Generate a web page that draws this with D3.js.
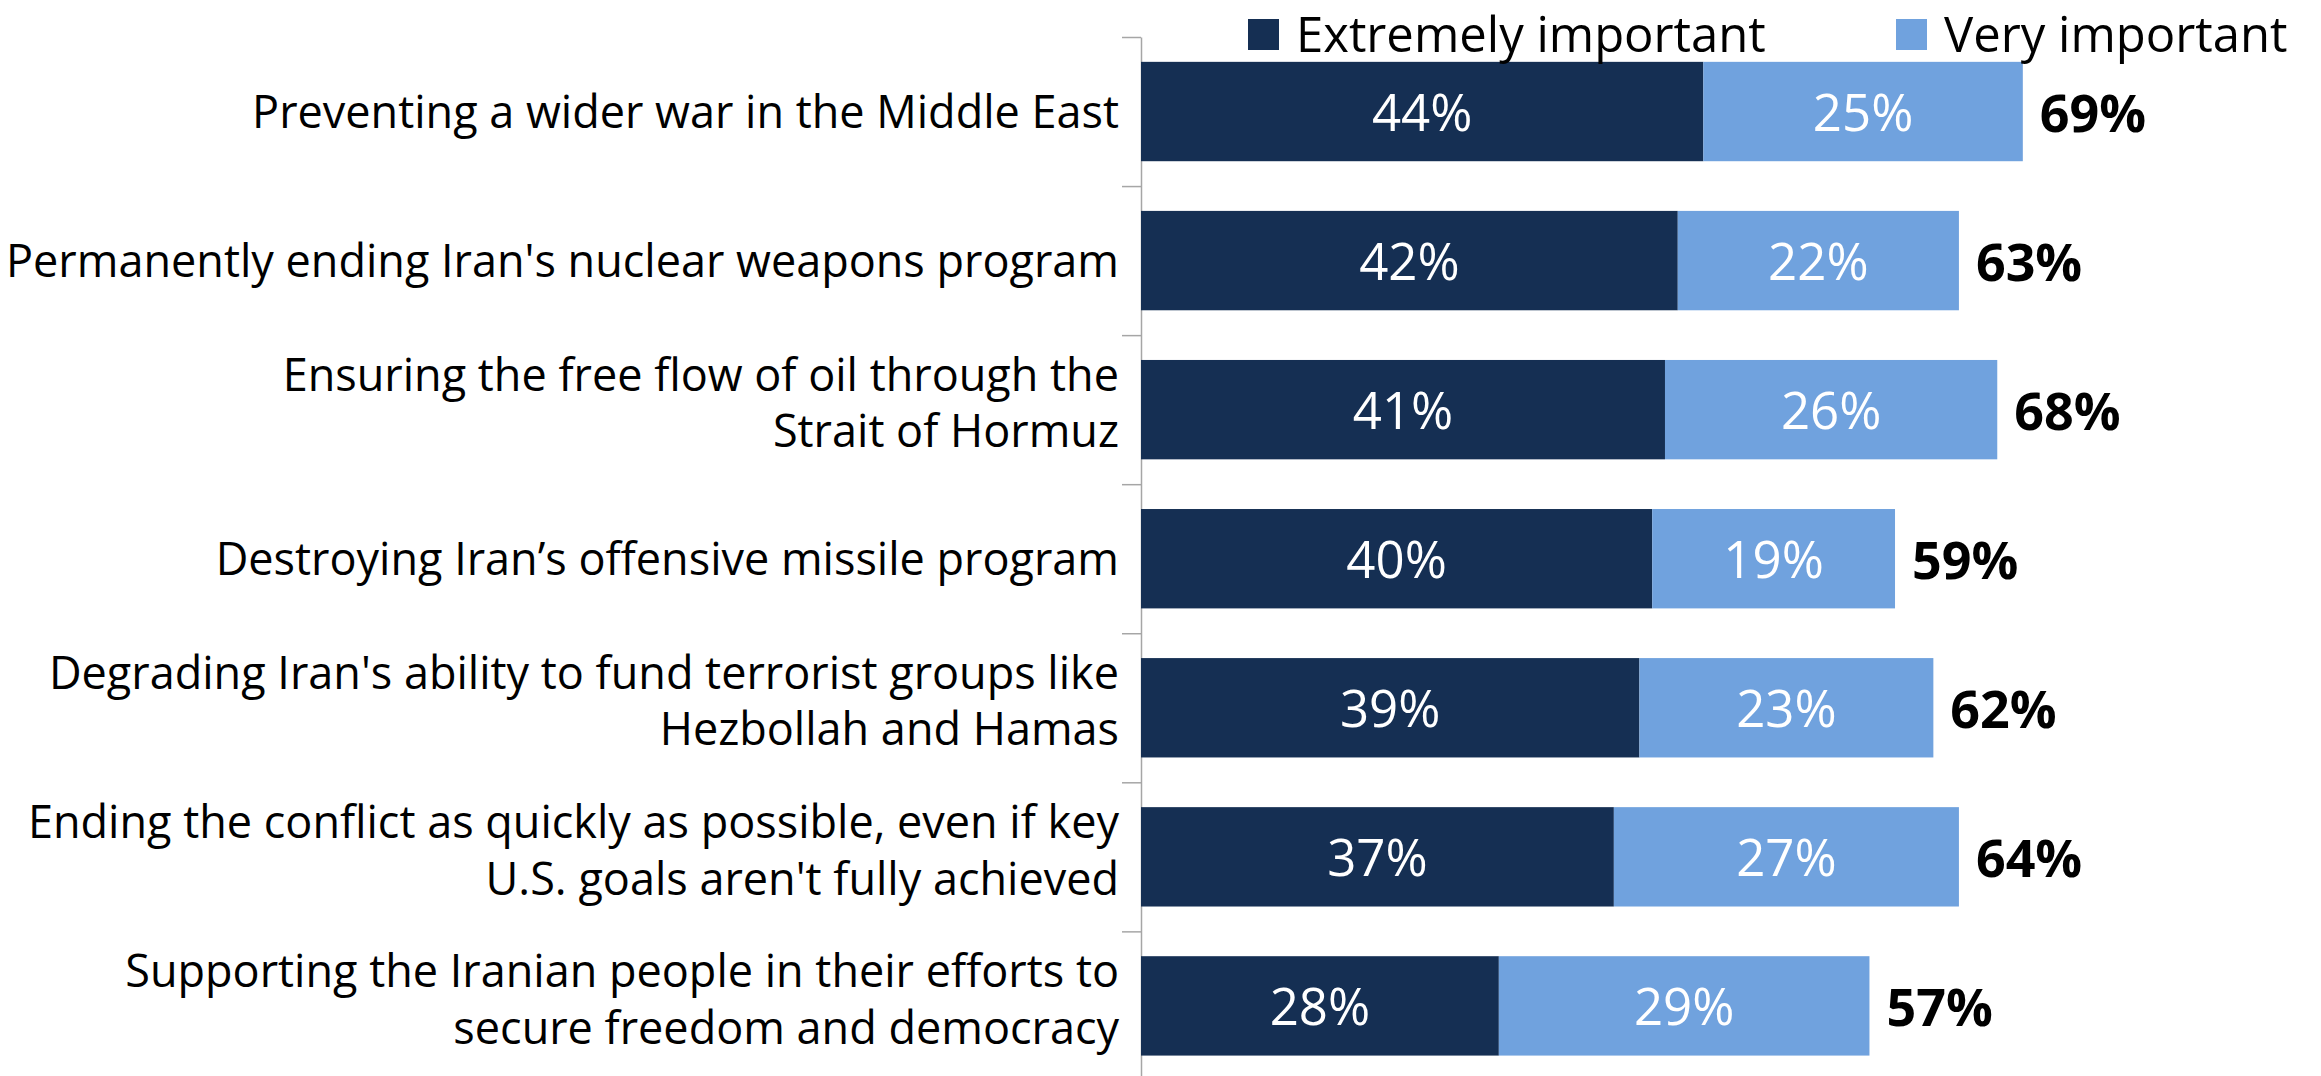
<!DOCTYPE html>
<html>
<head>
<meta charset="utf-8">
<script src="https://cdn.jsdelivr.net/npm/d3@7"></script>
<style>
  body { margin: 0; background: #fff; }
  svg { display: block; font-family: "Open Sans", "Noto Sans", sans-serif; }
</style>
</head>
<body>
<div id="chart"></div>
<script>
// Data
const categories = [
  ["Preventing a wider war in the Middle East"],
  ["Permanently ending Iran's nuclear weapons program"],
  ["Ensuring the free flow of oil through the", "Strait of Hormuz"],
  ["Destroying Iran\u2019s offensive missile program"],
  ["Degrading Iran's ability to fund terrorist groups like", "Hezbollah and Hamas"],
  ["Ending the conflict as quickly as possible, even if key", "U.S. goals aren't fully achieved"],
  ["Supporting the Iranian people in their efforts to", "secure freedom and democracy"]
];
const extremely = [44, 42, 41, 40, 39, 37, 28];
const very = [25, 22, 26, 19, 23, 27, 29];
const totals = [69, 63, 68, 59, 62, 64, 57];
const seriesNames = ["Extremely important", "Very important"];
const colors = ["#152f53", "#70a2de"];

const chartWidth = 2321;
const chartHeight = 1076;

const rows = categories.map(function (c, i) {
  return { key: i, lines: c, ext: extremely[i], very: very[i], total: totals[i] };
});

// Scales
var x = d3.scaleLinear()
  .domain([0, 100])
  .range([1141, 2419]);

var y = d3.scaleBand()
  .domain(rows.map(function (d) { return d.key; }))
  .range([37, 37 + 7 * 149.06])
  .paddingInner(1 / 3)
  .paddingOuter(1 / 6);

// boundaries between categories, for the tick marks
var yEdge = d3.scaleLinear()
  .domain([0, rows.length])
  .range(y.range());

var svg = d3.select('#chart')
  .append('svg')
  .attr('width', chartWidth)
  .attr('height', chartHeight);

// Axis
var axis = svg.append('g')
  .attr('transform', 'translate(' + x(0) + ',0)')
  .call(d3.axisLeft(yEdge)
    .tickValues(d3.range(rows.length + 1))
    .tickSize(19)
    .tickSizeOuter(0)
    .tickFormat(''));
axis.selectAll('path, line')
  .attr('stroke', '#a6a6a6')
  .attr('stroke-width', 1.5);

// Bars
var row = svg.selectAll('g.row')
  .data(rows)
  .enter()
  .append('g')
  .attr('class', 'row');

row.append('rect')
  .attr('x', x(0))
  .attr('y', function (d) { return y(d.key); })
  .attr('width', function (d) { return x(d.ext) - x(0); })
  .attr('height', y.bandwidth())
  .attr('fill', colors[0]);

row.append('rect')
  .attr('x', function (d) { return x(d.ext); })
  .attr('y', function (d) { return y(d.key); })
  .attr('width', function (d) { return x(d.ext + d.very) - x(d.ext); })
  .attr('height', y.bandwidth())
  .attr('fill', colors[1]);

// Segment labels
row.append('text')
  .text(function (d) { return d.ext + '%'; })
  .attr('x', function (d) { return (x(0) + x(d.ext)) / 2; })
  .attr('y', function (d) { return y(d.key) + y.bandwidth() / 2 + 19; })
  .attr('text-anchor', 'middle')
  .attr('font-size', '51px')
  .attr('fill', '#ffffff');

row.append('text')
  .text(function (d) { return d.very + '%'; })
  .attr('x', function (d) { return (x(d.ext) + x(d.ext + d.very)) / 2; })
  .attr('y', function (d) { return y(d.key) + y.bandwidth() / 2 + 19; })
  .attr('text-anchor', 'middle')
  .attr('font-size', '51px')
  .attr('fill', '#ffffff');

// Totals
row.append('text')
  .text(function (d) { return d.total + '%'; })
  .attr('x', function (d) { return x(d.ext + d.very) + 17; })
  .attr('y', function (d) { return y(d.key) + y.bandwidth() / 2 + 20; })
  .attr('font-size', '52px')
  .attr('font-weight', 'bold')
  .attr('fill', '#000');

// Category labels
row.append('text')
  .attr('x', x(0) - 22)
  .attr('y', function (d) {
    var mid = y(d.key) + y.bandwidth() / 2;
    return mid + 16 - (d.lines.length - 1) * 35;
  })
  .attr('text-anchor', 'end')
  .attr('font-size', '45px')
  .attr('fill', '#000')
  .selectAll('tspan')
  .data(function (d) { return d.lines; })
  .enter()
  .append('tspan')
  .attr('x', x(0) - 22)
  .attr('dy', function (d, i) { return i === 0 ? 0 : 56.7; })
  .text(function (d) { return d; });

// Legend
var legendX = [1248, 1896];
var legend = svg.selectAll('g.legend')
  .data(seriesNames)
  .enter()
  .append('g')
  .attr('class', 'legend')
  .attr('transform', function (d, i) { return 'translate(' + legendX[i] + ',0)'; });

legend.append('rect')
  .attr('x', 0)
  .attr('y', 19)
  .attr('width', 31)
  .attr('height', 31)
  .attr('fill', function (d, i) { return colors[i]; });

legend.append('text')
  .attr('x', 48)
  .attr('y', 52)
  .attr('font-size', '49px')
  .attr('fill', '#000')
  .text(function (d) { return d; });
</script>
</body>
</html>
